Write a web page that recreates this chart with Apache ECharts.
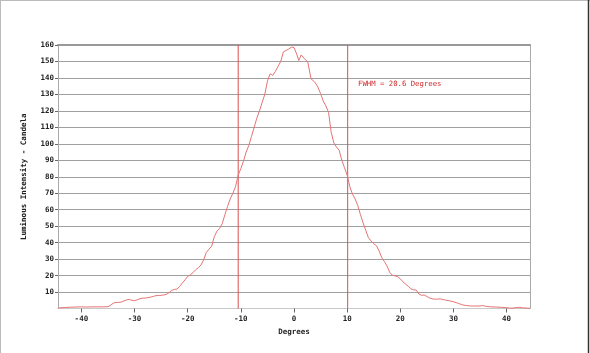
<!DOCTYPE html>
<html>
<head>
<meta charset="utf-8">
<script src="https://cdn.jsdelivr.net/npm/echarts@6/dist/echarts.min.js"></script>
<style>
html,body{margin:0;padding:0;background:#fff;}
#c{width:590px;height:353px;}
</style>
</head>
<body>
<div id="c"></div>
<script>
var degrees = [-44.4,-44,-43,-42,-41,-40,-39,-38,-37,-36,-35,-34.5,-34,-33.5,-33,-32.5,-32,-31.5,-31,-30.5,-30,-29.5,-29,-28.5,-28,-27.5,-27,-26.5,-26,-25.5,-25,-24.5,-24,-23.5,-23,-22.5,-22,-21.5,-21,-20.5,-20,-19.5,-19,-18.5,-18,-17.5,-17,-16.5,-16,-15.5,-15,-14.5,-14,-13.5,-13,-12.5,-12,-11.5,-11,-10.5,-10,-9.5,-9,-8.5,-8,-7.5,-7,-6.5,-6,-5.5,-5,-4.5,-4,-3.5,-3,-2.5,-2,-1.5,-1,-0.5,0,0.5,0.9,1.35,2,2.6,3.2,3.9,4.5,5,5.5,6,6.5,7,7.5,8,8.5,9,9.5,10,10.5,11,11.5,12,12.5,13,13.5,14,14.5,15,15.5,16,16.5,17,17.5,18,18.5,19,19.5,20,20.5,21,21.5,22,22.5,23,23.5,24,24.5,25,25.5,26,26.5,27,27.5,28,28.5,29,29.5,30,30.5,31,31.5,32,32.5,33,33.5,34,35,35.5,36,36.5,37,38,39,40,40.5,41,41.5,42,42.5,43,44,44.4];
var intensity = [0.3,0.4,0.6,0.8,0.9,1.0,0.9,1.0,1.0,1.0,1.1,2.0,3.2,3.7,3.7,3.9,4.6,5.2,5.5,5.0,4.7,5.3,5.9,6.3,6.3,6.6,6.9,7.3,7.8,7.9,8.0,8.2,8.6,9.6,11.0,11.6,11.8,13.5,15.5,17.4,19.5,20.5,21.8,23.5,24.8,26.4,29.5,34,36,37.8,43.5,47,48.6,51.5,57,62,66.5,70,74,81,85,89.5,95,99,104.5,110,115.5,120,125,130,138,142.5,141.5,144,147,150,155.8,156.7,157.5,158.7,158.5,154.5,150.6,154,151.6,149.6,139.5,137.5,134.5,130.5,126,123,119,107,100.5,98,96,90,85.5,81,74,69.5,66.5,62.5,57,52,47.5,43,41,39.3,38.2,35,31,28.5,25.8,22,20.2,19.8,19.4,18,16.2,14.8,13.5,12,11.3,11.2,8.8,8.0,8.2,7.3,6.4,5.9,5.7,5.7,5.8,5.5,5.1,4.8,4.5,4.1,3.6,3.0,2.4,2.0,1.8,1.6,1.5,1.5,1.5,1.8,1.4,1.2,1.0,0.9,0.7,0.5,0.3,0.2,0.4,0.6,0.7,0.4,0.2,0.1];
var xTicks = [-40,-30,-20,-10,0,10,20,30,40];
var yTicks = [10,20,30,40,50,60,70,80,90,100,110,120,130,140,150,160];
var fwhmLines = [-10.5, 10.1];
var fwhmText = 'FWHM = 20.6 Degrees';

var font = 'DejaVu Sans Mono';
var pts = degrees.map(function(d,i){return [d, intensity[i]];});
var lineSeries = fwhmLines.map(function(v){
  return {type:'line', data:[[v,0],[v,160]], showSymbol:false, symbol:'none', silent:true,
    lineStyle:{color:'#d85050',width:1}, z:1};
});
var chart = echarts.init(document.getElementById('c'), null, {renderer:'canvas'});
chart.setOption({
  animation:false,
  backgroundColor:'#fff',
  grid:{left:58,right:60,top:45,bottom:44.5},
  xAxis:[{
    type:'value', min:-44.4, max:44.4,
    name:'Degrees', nameLocation:'middle', nameGap:18,
    nameTextStyle:{fontFamily:font,fontSize:7.5,fontWeight:'bold',color:'#222'},
    axisLine:{show:true,onZero:false,lineStyle:{color:'#c8c8c8',width:1}},
    axisTick:{show:true,length:4,customValues:xTicks,lineStyle:{color:'#666'}},
    axisLabel:{customValues:xTicks,margin:7,fontFamily:font,fontSize:7.5,fontWeight:'bold',color:'#222'},
    splitLine:{show:false}
  },{
    type:'value', min:-44.4, max:44.4, position:'top',
    axisLine:{show:true,onZero:false,lineStyle:{color:'#999',width:2}},
    axisTick:{show:false}, axisLabel:{show:false}, splitLine:{show:false}
  }],
  yAxis:[{
    type:'value', min:0, max:160, interval:10, position:'left',
    name:'Luminous Intensity - Candela', nameLocation:'middle', nameGap:30,
    nameTextStyle:{fontFamily:font,fontSize:7.5,fontWeight:'bold',color:'#222'},
    axisLine:{show:true,onZero:false,lineStyle:{color:'#aaa',width:1}},
    axisTick:{show:true,length:3,customValues:yTicks,lineStyle:{color:'#666'}},
    axisLabel:{customValues:yTicks,margin:4,fontFamily:font,fontSize:7.5,fontWeight:'bold',color:'#222'},
    splitLine:{show:true,lineStyle:{color:'#a0a0a0',width:1}}
  },{
    type:'value', min:0, max:160, position:'right',
    axisLine:{show:true,onZero:false,lineStyle:{color:'#aaa',width:1}},
    axisTick:{show:false}, axisLabel:{show:false}, splitLine:{show:false}
  }],
  series:[{
    type:'line', data:pts, showSymbol:false, symbol:'none', z:2,
    lineStyle:{color:'#e57373',width:1}
  }].concat(lineSeries),
  graphic:[
    {type:'text',left:358,top:81,style:{text:fwhmText,fontFamily:font,fontSize:7.3,fill:'#cc2a2a'}},
    {type:'line',shape:{x1:0.5,y1:0,x2:0.5,y2:353},style:{stroke:'#bbb',lineWidth:1}},
    {type:'line',shape:{x1:0,y1:0.5,x2:590,y2:0.5},style:{stroke:'#bbb',lineWidth:1}},
    {type:'line',shape:{x1:588.5,y1:0,x2:588.5,y2:353},style:{stroke:'#333',lineWidth:1.5}}
  ]
});
</script>
</body>
</html>
